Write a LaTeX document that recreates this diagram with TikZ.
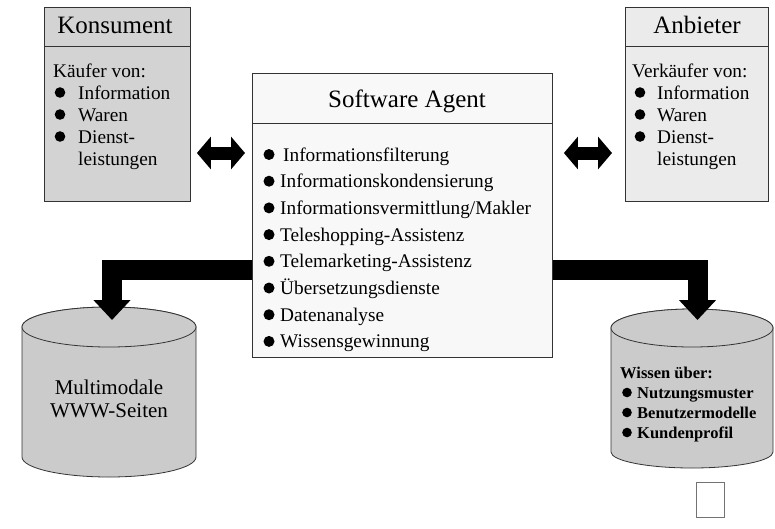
\documentclass[tikz,border=0pt]{standalone}
\usepackage{fontspec}
\setmainfont{Liberation Serif}
\usetikzlibrary{arrows.meta}
\definecolor{konsgray}{HTML}{D3D3D3}
\definecolor{anbgray}{HTML}{EBEBEB}
\definecolor{agentgray}{HTML}{F8F8F8}
\definecolor{cylgray}{HTML}{CBCBCB}
\definecolor{edge}{HTML}{333333}
\begin{document}
\begin{tikzpicture}[x=1pt,y=-1pt,
  panel/.style={draw=edge, line width=0.9pt, anchor=north west, inner sep=0pt},
  header/.style={font=\fontsize{25}{29}\selectfont, anchor=base, inner sep=0pt},
  entry/.style={font=\fontsize{19.3}{22}\selectfont, anchor=base west, inner sep=0pt},
  dbentry/.style={font=\fontsize{16.5}{20}\selectfont\bfseries, anchor=base west, inner sep=0pt},
  cyl/.style={draw=edge, line width=0.8pt, fill=cylgray},
  blockarrow/.style={line width=13pt,
    {Triangle[length=14pt,width=32pt]}-{Triangle[length=14pt,width=32pt]}},
  feed/.style={line width=20pt, line join=miter,
    -{Triangle[length=20pt,width=36pt]}},
]
\useasboundingbox (0,0) rectangle (775,528);

% ---- consumer panel ----
\node[panel, fill=konsgray, minimum width=146pt, minimum height=194pt] (kons) at (44,7) {};
\draw[edge, line width=0.9pt] ([yshift=-39pt]kons.north west) -- ([yshift=-39pt]kons.north east);
\node[header] (kons-t) at (115,33) {Konsument};
\node[entry] (kons-h) at (53,77) {Käufer von:};
\foreach \txt/\yy/\dt [count=\i] in {Information/99/1, Waren/121/1, Dienst-/143/1, leistungen/165/0}{
  \node[entry] (kons-\i) at (78,\yy) {\txt};
  \ifnum\dt=1 \fill (60,\yy-6.5) circle (5.3); \fi
}

% ---- supplier panel ----
\node[panel, fill=anbgray, minimum width=143pt, minimum height=194pt] (anb) at (625,7) {};
\draw[edge, line width=0.9pt] ([yshift=-39pt]anb.north west) -- ([yshift=-39pt]anb.north east);
\node[header] (anb-t) at (697,33) {Anbieter};
\node[entry] (anb-h) at (632,77) {Verkäufer von:};
\foreach \txt/\yy/\dt [count=\i] in {Information/99/1, Waren/121/1, Dienst-/143/1, leistungen/165/0}{
  \node[entry] (anb-\i) at (657,\yy) {\txt};
  \ifnum\dt=1 \fill (640,\yy-6.5) circle (5.3); \fi
}

% ---- agent panel ----
\node[panel, fill=agentgray, minimum width=300pt, minimum height=284pt] (agent) at (252,73) {};
\draw[edge, line width=0.9pt] ([yshift=-50pt]agent.north west) -- ([yshift=-50pt]agent.north east);
\node[header] (agent-t) at (407,107) {Software Agent};
\foreach \txt/\xx [count=\i] in {Informationsfilterung/283, Informationskondensierung/280,
  {Informationsvermittlung/Makler}/280, Teleshopping-Assistenz/280, Telemarketing-Assistenz/280,
  Übersetzungsdienste/280, Datenanalyse/280, Wissensgewinnung/280}{
  \node[entry] (agent-\i) at (\xx,{161+26.7*(\i-1)}) {\txt};
  \fill (269,{161+26.7*(\i-1)-6.5}) circle (5.5);
}

% ---- web pages store ----
\filldraw[cyl] (22,327) -- (22,457) arc[start angle=180, end angle=0, x radius=87, y radius=20]
  -- (196,327) arc[start angle=0, end angle=-180, x radius=87, y radius=20] -- cycle;
\draw[cyl] (109,327) ellipse [x radius=87, y radius=20];
\node[font=\fontsize{21}{23}\selectfont, align=center, inner sep=0pt] (web) at (109,399) {Multimodale\\WWW-Seiten};
\coordinate (web-in) at (112,320);

% ---- knowledge store ----
\filldraw[cyl] (611,328) -- (611,452) arc[start angle=180, end angle=0, x radius=81, y radius=16]
  -- (773,328) arc[start angle=0, end angle=-180, x radius=81, y radius=19] -- cycle;
\draw[cyl] (692,328) ellipse [x radius=81, y radius=19];
\node[dbentry] (know-h) at (620,378) {Wissen über:};
\foreach \txt/\yy [count=\i] in {Nutzungsmuster/398, Benutzermodelle/418, Kundenprofil/438}{
  \node[dbentry] (know-\i) at (637,\yy) {\txt};
  \fill (627,\yy-5.5) circle (4.8);
}
\coordinate (know-in) at (697.5,320);

\node[draw=black!55, line width=0.8pt, fill=white, minimum width=28pt, minimum height=35pt,
  anchor=north west, inner sep=0pt] (blank) at (696,482) {};

% ---- connectors ----
\draw[blockarrow, shorten <=6pt, shorten >=7pt] (kons.east |- 0,153) -- (agent.west |- 0,153);
\draw[blockarrow, shorten <=11pt, shorten >=13pt] (agent.east |- 0,153) -- (anb.west |- 0,153);
\draw[feed] (agent.west |- 0,270) -| (web-in);
\draw[feed] (agent.east |- 0,270) -| (know-in);
\end{tikzpicture}
\end{document}
